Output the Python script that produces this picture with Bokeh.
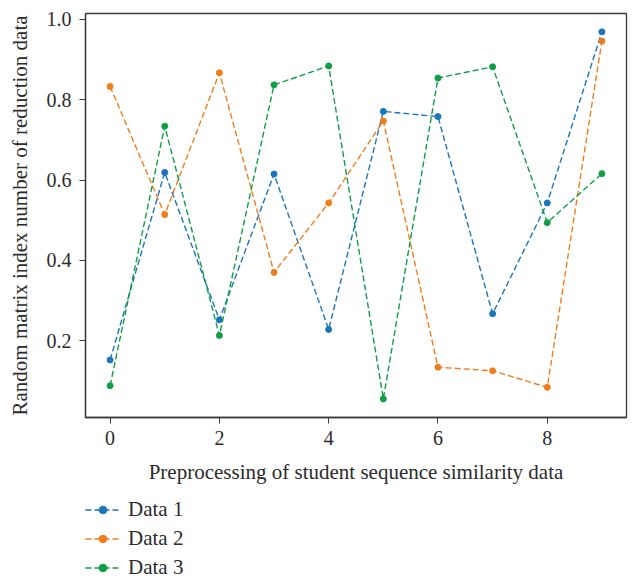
from bokeh.plotting import figure
from bokeh.layouts import column
from bokeh.models import ColumnDataSource, Legend, LegendItem, Range1d, FixedTicker, NumeralTickFormatter
from bokeh.embed import file_html
from bokeh.resources import INLINE

x = list(range(10))
data1 = [0.152, 0.619, 0.252, 0.615, 0.228, 0.771, 0.758, 0.267, 0.543, 0.969]
data2 = [0.833, 0.514, 0.867, 0.370, 0.543, 0.747, 0.134, 0.125, 0.084, 0.946]
data3 = [0.088, 0.734, 0.213, 0.837, 0.884, 0.055, 0.854, 0.882, 0.494, 0.616]
names = ["Data 1", "Data 2", "Data 3"]
colors = ["#1a76bb", "#f07d1c", "#0f9e45"]
x_ticks = [0, 2, 4, 6, 8]
y_ticks = [0.2, 0.4, 0.6, 0.8, 1.0]

FONT = "Liberation Serif"
DASH = "6 3"

p = figure(width=632, height=490, output_backend="svg", toolbar_location=None,
           x_range=Range1d(-0.45, 9.45), y_range=Range1d(0.0088, 1.0147),
           min_border_left=85, min_border_right=6, min_border_top=13, min_border_bottom=73)
p.xgrid.visible = False
p.ygrid.visible = False
p.outline_line_color = "#3a3a3a"
p.outline_line_width = 1.3

for ax in (p.xaxis[0], p.yaxis[0]):
    ax.axis_line_color = "#3a3a3a"
    ax.axis_line_width = 1.3
    ax.major_tick_line_color = "#3a3a3a"
    ax.major_tick_out = 6
    ax.major_tick_in = 0
    ax.minor_tick_out = 0
    ax.minor_tick_in = 0
    ax.major_label_text_font = FONT
    ax.major_label_text_font_size = "20px"
    ax.major_label_text_color = "#2b2b2b"
    ax.axis_label_text_font = FONT
    ax.axis_label_text_font_size = "21px"
    ax.axis_label_text_font_style = "normal"
    ax.axis_label_text_color = "#2b2b2b"

p.xaxis.ticker = FixedTicker(ticks=x_ticks)
p.yaxis.ticker = FixedTicker(ticks=y_ticks)
p.yaxis.formatter = NumeralTickFormatter(format="0.0")
p.xaxis.axis_label = "Preprocessing of student sequence similarity data"
p.yaxis.axis_label = "Random matrix index number of reduction data"
p.xaxis.major_label_standoff = 7
p.yaxis.major_label_standoff = 8
p.xaxis.axis_label_standoff = 12
p.yaxis.axis_label_standoff = 12

sources = []
for vals, col in zip([data1, data2, data3], colors):
    src = ColumnDataSource(dict(x=x, y=vals))
    sources.append(src)
    p.line("x", "y", source=src, line_color=col, line_width=1.4, line_dash=DASH)
    p.scatter("x", "y", source=src, size=6, fill_color=col, line_color=col)

# legend strip below the chart; its renderers share the data but its ranges keep them out of view
lg = figure(width=632, height=90, output_backend="svg", toolbar_location=None,
            x_range=Range1d(-200, -199), y_range=Range1d(-200, -199),
            x_axis_location=None, y_axis_location=None,
            min_border_left=0, min_border_right=0, min_border_top=0, min_border_bottom=0,
            outline_line_color=None)
lg.xgrid.visible = False
lg.ygrid.visible = False
items = []
for name, col, src in zip(names, colors, sources):
    r1 = lg.line("x", "y", source=src, line_color=col, line_width=1.4, line_dash=DASH)
    r2 = lg.scatter("x", "y", source=src, size=6, fill_color=col, line_color=col)
    items.append(LegendItem(label=name, renderers=[r1, r2]))

legend = Legend(items=items, orientation="vertical", location=(0, 0),
                label_text_font=FONT, label_text_font_size="21px", label_text_color="#2b2b2b",
                glyph_width=35, glyph_height=19, label_height=19, label_standoff=8,
                spacing=4, padding=0, margin=0, border_line_color=None,
                background_fill_alpha=0)
lg.add_layout(legend, "center")

layout = column(p, lg, spacing=0)
open("out.html", "w").write(file_html(layout, INLINE))
